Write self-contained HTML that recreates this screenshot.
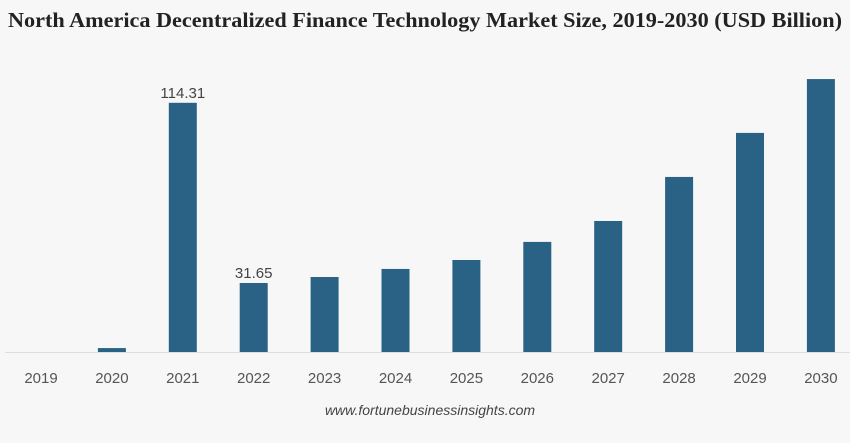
<!DOCTYPE html>
<html><head><meta charset="utf-8"><style>
body{margin:0;background:#f7f7f7;width:850px;height:438px;overflow:hidden;font-family:"Liberation Sans",sans-serif}
</style></head><body>
<svg width="850" height="438">
<rect width="850" height="438" fill="#f7f7f7"/>
<text x="425" y="27" text-anchor="middle" font-family="Liberation Serif" font-weight="bold" font-size="21.5" textLength="834" lengthAdjust="spacingAndGlyphs" fill="#222">North America Decentralized Finance Technology Market Size, 2019-2030 (USD Billion)</text>
<line x1="5" x2="850" y1="352.5" y2="352.5" stroke="#ddd" stroke-width="1"/>
<g id="bars"></g>
<text x="430" y="415" text-anchor="middle" font-style="italic" font-size="14" fill="#444">www.fortunebusinessinsights.com</text>
</svg>
<script>
const categories=["2019","2020","2021","2022","2023","2024","2025","2026","2027","2028","2029","2030"];
const values=[0,1.8,114.31,31.65,34.4,38.1,42.2,50.5,60.1,80.3,100.5,125.2];
const labels=[null,null,"114.31","31.65",null,null,null,null,null,null,null,null];
const ns="http://www.w3.org/2000/svg";
const g=document.getElementById('bars');
const x=i=>41+i*70.9;
const y=v=>352-v*2.18;
categories.forEach((c,i)=>{
 const r=document.createElementNS(ns,'rect');
 r.setAttribute('x',x(i)-14);r.setAttribute('width',28);
 r.setAttribute('y',y(values[i]));r.setAttribute('height',352-y(values[i]));
 r.setAttribute('fill','#2a6285');
 
 
 g.appendChild(r);
 const t=document.createElementNS(ns,'text');
 t.setAttribute('x',x(i));t.setAttribute('y',383);t.setAttribute('text-anchor','middle');
 t.setAttribute('font-size','15');t.setAttribute('fill','#555');t.textContent=c;
 
 
 g.appendChild(t);
 if(labels[i]){
  const l=document.createElementNS(ns,'text');
  l.setAttribute('x',x(i));l.setAttribute('y',y(values[i])-5);l.setAttribute('text-anchor','middle');
  l.setAttribute('font-size','15');l.setAttribute('fill','#444');l.textContent=labels[i];
  
  
  g.appendChild(l);
 }
});
</script>
</body></html>
